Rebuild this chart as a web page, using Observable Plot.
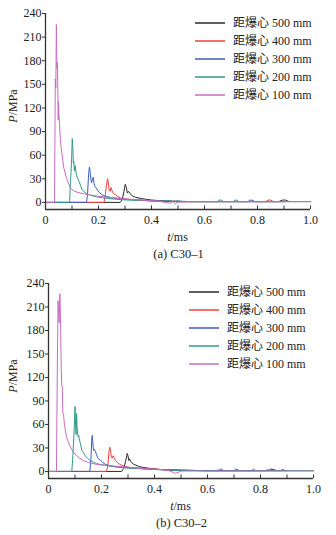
<!DOCTYPE html>
<html><head><meta charset="utf-8">
<script src="https://cdn.jsdelivr.net/npm/d3@7"></script>
<script src="https://cdn.jsdelivr.net/npm/@observablehq/plot@0.6"></script>
<style>
body{margin:0;background:#fff;}
#wrap{position:relative;width:336px;height:535px;overflow:hidden;font-family:"Liberation Serif","DejaVu Serif","Noto Sans CJK SC",serif;}
.panel{position:absolute;left:0;}
.legend{position:absolute;font-size:12px;color:#222;line-height:18px;}
.legend .row{display:flex;align-items:center;height:18px;white-space:nowrap;}
.legend svg{display:block;margin-right:8px;}
</style></head>
<body><div id="wrap"></div>
<script>
// ---------- data ----------
const seriesNames = ["距爆心 500 mm","距爆心 400 mm","距爆心 300 mm","距爆心 200 mm","距爆心 100 mm"];
const seriesColors = ["#2a2a2a","#f0413c","#3d5cc2","#2f9a88","#c96cc2"];
const xTickValues = [0,0.2,0.4,0.6,0.8,1.0];
const xMinorTicks = [0.1,0.2,0.3,0.4,0.5,0.6,0.7,0.8,0.9,1.0];
const yTickValues = [0,30,60,90,120,150,180,210,240];
const captions = ["(a) C30–1","(b) C30–2"];

// C30-1  [t (ms), P (MPa)]
const a_500 = [[0,0],[0.282,0],[0.290,4],[0.296,14],[0.301,23],[0.305,19],[0.309,12],[0.313,14],[0.318,12],[0.322,10],[0.33,8],[0.34,6.5],[0.36,5],[0.38,4],[0.4,3],[0.42,2.5],[0.45,2],[0.5,1.5],[0.55,1],[0.6,1],[0.7,1],[0.8,1],[0.88,1],[0.895,3],[0.905,3],[0.92,1]];
const a_400 = [[0,0],[0.221,0],[0.226,10],[0.230,22],[0.234,30],[0.237,26],[0.240,16],[0.244,14],[0.247,19],[0.251,15],[0.257,11],[0.263,10],[0.270,8],[0.283,5.5],[0.3,4.5],[0.35,3],[0.4,2],[0.45,1.5],[0.5,1],[0.6,1],[0.7,1],[0.83,1],[0.84,3],[0.85,3],[0.86,1],[0.9,1]];
const a_300 = [[0,0],[0.155,0],[0.159,12],[0.163,38],[0.166,45],[0.168,40],[0.171,30],[0.174,25],[0.177,30],[0.180,32],[0.183,24],[0.187,20],[0.190,19],[0.195,16],[0.202,13],[0.212,10],[0.225,8],[0.25,6],[0.3,4],[0.35,3],[0.4,2],[0.45,1.5],[0.5,1],[0.6,1],[0.7,1],[0.765,1],[0.77,3],[0.785,2.5],[0.79,1],[0.85,1],[0.9,1]];
const a_200 = [[0,0],[0.091,0],[0.094,25],[0.098,50],[0.101,81],[0.103,70],[0.105,50],[0.107,52],[0.109,40],[0.111,47],[0.113,44],[0.116,36],[0.120,32],[0.126,27],[0.132,22],[0.138,16],[0.145,14],[0.155,11],[0.170,9],[0.2,6.5],[0.25,4.5],[0.3,3.2],[0.35,2.5],[0.4,2],[0.44,1.5],[0.46,2.5],[0.48,1],[0.5,2],[0.52,1],[0.6,1],[0.65,1],[0.655,3],[0.665,3],[0.67,1],[0.71,1],[0.715,3],[0.725,2.5],[0.73,1],[0.8,1],[0.9,1],[1.0,1]];
const a_100 = [[0,0],[0.034,0],[0.037,157],[0.039,145],[0.041,226],[0.043,170],[0.045,178],[0.047,130],[0.048,105],[0.049,128],[0.051,110],[0.053,100],[0.056,80],[0.059,70],[0.062,62],[0.069,44],[0.080,30],[0.094,18],[0.110,14],[0.130,12],[0.152,10.5],[0.195,8],[0.25,6],[0.295,4.3],[0.35,3.2],[0.4,2.2],[0.43,1.5],[0.45,0],[0.47,-1],[0.48,1],[0.49,-2],[0.5,0.5],[0.55,1],[0.6,1],[0.7,1],[0.8,1],[0.9,1],[1.0,1]];

// C30-2
const b_500 = [[0,0],[0.276,0],[0.284,4],[0.291,13],[0.297,23],[0.300,20],[0.303,14],[0.306,16],[0.310,13],[0.315,11],[0.322,9],[0.33,8],[0.34,6.5],[0.36,5],[0.38,4],[0.4,3.5],[0.42,2.5],[0.45,2],[0.5,1.5],[0.6,1],[0.7,1],[0.8,1],[0.83,1],[0.838,3],[0.85,2.5],[0.86,1],[0.875,1],[0.882,2.2],[0.89,1.5],[0.9,1]];
const b_400 = [[0,0],[0.219,0],[0.224,8],[0.228,24],[0.231,31],[0.234,27],[0.237,19],[0.240,17],[0.244,20],[0.248,17],[0.253,14],[0.258,12],[0.265,10],[0.275,8],[0.284,7],[0.3,5.5],[0.35,4],[0.4,3],[0.45,2],[0.5,1.5],[0.6,1],[0.7,1],[0.765,1],[0.774,3],[0.782,1],[0.82,1],[0.827,2.5],[0.835,1],[0.86,1]];
const b_300 = [[0,0],[0.156,0],[0.160,15],[0.163,40],[0.165,46],[0.167,38],[0.169,30],[0.171,27],[0.174,28],[0.177,25],[0.181,22],[0.185,18],[0.190,16],[0.197,14],[0.203,12],[0.215,9],[0.23,7.5],[0.25,6],[0.3,4.5],[0.35,3.5],[0.4,2.5],[0.45,2],[0.5,1.5],[0.6,1],[0.7,1],[0.706,3],[0.715,2],[0.72,1],[0.78,1]];
const b_200 = [[0,0],[0.088,0],[0.092,20],[0.097,55],[0.100,83],[0.102,60],[0.104,47],[0.106,74],[0.108,55],[0.110,48],[0.112,44],[0.114,46],[0.117,40],[0.120,36],[0.126,27],[0.132,24],[0.138,20],[0.147,17],[0.157,14],[0.181,10],[0.21,8],[0.25,6],[0.3,4.5],[0.35,3.5],[0.4,2.5],[0.45,2],[0.48,1.5],[0.5,1.5],[0.6,1],[0.64,1],[0.645,3],[0.655,3],[0.66,1],[0.7,1],[0.8,1],[0.9,1],[1.0,1]];
const b_100 = [[0,0],[0.030,0],[0.033,120],[0.036,218],[0.040,190],[0.043,227],[0.046,180],[0.048,131],[0.050,110],[0.052,108],[0.054,75],[0.057,72],[0.060,60],[0.068,44],[0.080,33],[0.093,25],[0.110,19],[0.131,14],[0.150,11.5],[0.181,9],[0.21,8],[0.244,7],[0.28,6],[0.307,5],[0.35,4],[0.4,3],[0.45,1.5],[0.47,-1],[0.48,-2.5],[0.49,-1],[0.5,0.5],[0.6,0.5],[0.8,0.5],[1.0,0.5]];

const panels = [
  {series:[a_500,a_400,a_300,a_200,a_100], top:0, height:262, mt:13, mb:53, ml:45, mr:26, legendLeft:195, legendTop:14},
  {series:[b_500,b_400,b_300,b_200,b_100], top:268, height:267, mt:15, mb:57, ml:48, mr:23, legendLeft:189, legendTop:283}
];

const wrap = document.getElementById("wrap");
const FONT = '"Liberation Serif","DejaVu Serif","Noto Sans CJK SC",serif';
const NS = "http://www.w3.org/2000/svg";

panels.forEach((pn, i) => {
  const rows = [];
  pn.series.forEach((arr, k) => arr.forEach(([t,p]) => rows.push({t, p, s: seriesNames[k]})));
  const chart = Plot.plot({
    width: 336, height: pn.height,
    marginTop: pn.mt, marginBottom: pn.mb, marginLeft: pn.ml, marginRight: pn.mr,
    style: {fontFamily: FONT, fontSize: "12px", color: "#222", background: "#fff"},
    x: {domain: [0, 1], label: null},
    y: {domain: [-9, 240], label: null},
    marks: [
      ...pn.series.map((arr, k) => Plot.line(rows.filter(r => r.s === seriesNames[k]), {x: "t", y: "p", stroke: seriesColors[k], strokeWidth: 1})),
      Plot.ruleX(xMinorTicks, {x: d => d, y1: -9, y2: -4.5, stroke: "#333", strokeWidth: 1}),
      Plot.ruleY([-9], {stroke: "#333", strokeWidth: 1.3}),
      Plot.ruleX([0], {y1: -9, y2: 240, stroke: "#333", strokeWidth: 1.3}),
      Plot.axisX({ticks: xTickValues, tickSize: 0, tickPadding: 6, tickFormat: d => d === 0 ? "0" : d.toFixed(1), fontSize: 12, fill: "#222"}),
      Plot.axisY({ticks: yTickValues, tickSize: 3, tickPadding: 1, tickFormat: d => String(d), fontSize: 12, fill: "#222", stroke: "#333"})
    ]
  });
  chart.classList.add("panel");
  chart.style.top = pn.top + "px";
  wrap.appendChild(chart);
  const svg = d3.select(chart);
  const axisY = pn.height - pn.mb;
  const cx = pn.ml + (336 - pn.ml - pn.mr) / 2;
  const yl = svg.append("text").attr("transform", `translate(14,${pn.mt + 93}) rotate(-90)`)
    .attr("text-anchor", "middle").attr("dominant-baseline", "middle")
    .attr("font-size", 12).attr("fill", "#222").attr("font-family", FONT);
  yl.append("tspan").attr("font-style", "italic").text("P");
  yl.append("tspan").text("/MPa");
  const xl = svg.append("text").attr("x", cx).attr("y", axisY + 29)
    .attr("text-anchor", "middle").attr("dominant-baseline", "middle")
    .attr("font-size", 12).attr("fill", "#222").attr("font-family", FONT);
  xl.append("tspan").attr("font-style", "italic").text("t");
  xl.append("tspan").text("/ms");
  svg.append("text").attr("x", cx + 1).attr("y", axisY + 46)
    .attr("text-anchor", "middle").attr("dominant-baseline", "middle")
    .attr("font-size", 12.5).attr("fill", "#222").attr("font-family", FONT)
    .text(captions[i]);
  // legend
  const lg = document.createElement("div");
  lg.className = "legend";
  lg.style.left = pn.legendLeft + "px";
  lg.style.top = pn.legendTop + "px";
  seriesNames.forEach((nm, k) => {
    const r = document.createElement("div"); r.className = "row";
    const sw = document.createElementNS(NS, "svg");
    sw.setAttribute("width", "30"); sw.setAttribute("height", "4");
    const ln = document.createElementNS(NS, "line");
    ln.setAttribute("x1", "0"); ln.setAttribute("x2", "30"); ln.setAttribute("y1", "2"); ln.setAttribute("y2", "2");
    ln.setAttribute("stroke", seriesColors[k]); ln.setAttribute("stroke-width", "1.5");
    sw.appendChild(ln);
    const tx = document.createElement("span"); tx.textContent = nm;
    r.appendChild(sw); r.appendChild(tx); lg.appendChild(r);
  });
  wrap.appendChild(lg);
});
</script></body></html>
